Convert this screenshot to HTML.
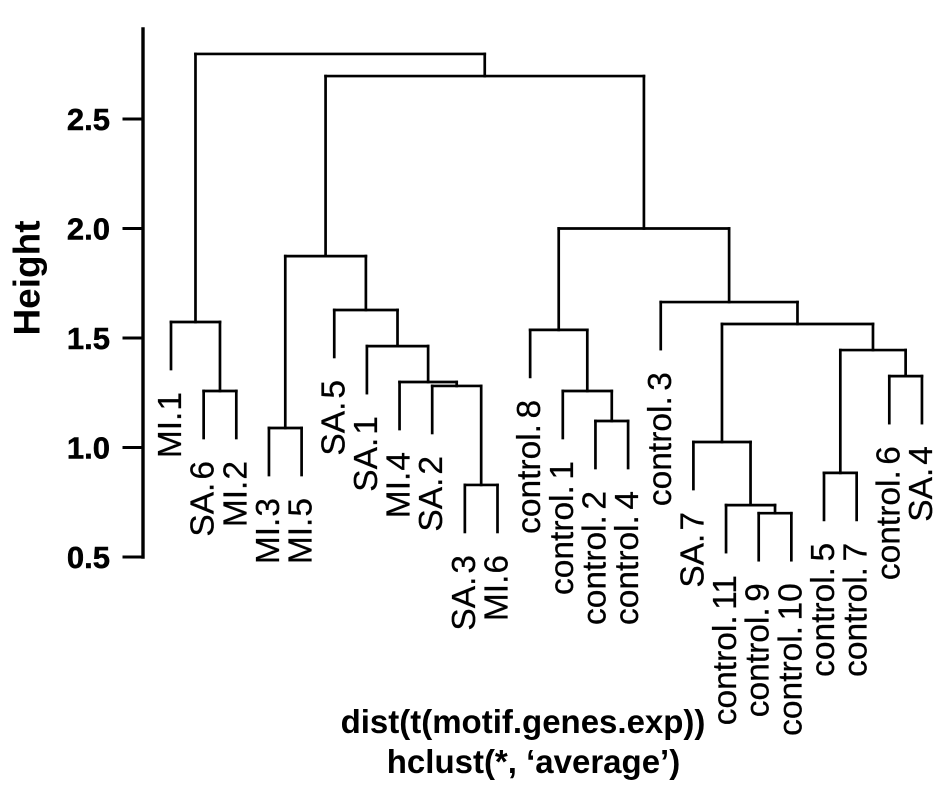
<!DOCTYPE html>
<html>
<head>
<meta charset="utf-8">
<style>
html,body{margin:0;padding:0;background:#fff;}
svg{display:block;}
text{font-family:"Liberation Sans",Arial,sans-serif;fill:#000;}
</style>
</head>
<body>
<svg id="chart" width="945" height="794" viewBox="0 0 945 794" xmlns="http://www.w3.org/2000/svg">
  <text transform="translate(39.5,278) rotate(-90)" text-anchor="middle" font-size="37" font-weight="bold">Height</text>
  <text x="523" y="733" text-anchor="middle" font-size="33" font-weight="bold">dist(t(motif.genes.exp))</text>
  <text x="533.5" y="773" text-anchor="middle" font-size="33" font-weight="bold">hclust(*, ‘average’)</text>
</svg>
<script>
const leafLabels = ["MI.1","SA.6","MI.2","MI.3","MI.5","SA.5","SA.1","MI.4","SA.2","SA.3","MI.6","control.8","control.1","control.2","control.4","control.3","SA.7","control.11","control.9","control.10","control.5","control.7","control.6","SA.4"];
// children: negative = leaf (1-based index in leafLabels), positive = earlier merge (1-based)
const mergeLeft  = [-2, -1, -4, -10, -9, -8, -7, -6, 3, -14, -13, -12, -19, -18, -17, -21, -23, 16, 15, -16, 12, 9, 2];
const mergeRight = [-3,  1, -5, -11,  4,  5,  6,  7, 8, -15,  10,  11, -20,  13,  14, -22, -24, 17, 18,  19, 20, 21, 22];
const mergeHeights = [1.258,1.573,1.089,0.829,1.281,1.299,1.463,1.628,1.874,1.121,1.258,1.537,0.70,0.737,1.025,0.884,1.326,1.445,1.564,1.664,2.0,2.696,2.797];
const yTicks = [0.5,1.0,1.5,2.0,2.5];
const yTickLabels = ["0.5","1.0","1.5","2.0","2.5"];
const hang = 0.2146;

const svg = document.getElementById('chart');
const NS = 'http://www.w3.org/2000/svg';
const yScale = h => 557 - (h - 0.5) * 219;
const xScale = i => 171 + i * 32.65;

function line(x1, y1, x2, y2, w) {
  const el = document.createElementNS(NS, 'line');
  el.setAttribute('x1', x1);
  el.setAttribute('y1', y1);
  el.setAttribute('x2', x2);
  el.setAttribute('y2', y2);
  el.setAttribute('stroke', '#000');
  el.setAttribute('stroke-width', w);
  el.setAttribute('stroke-linecap', 'square');
  svg.appendChild(el);
  return el;
}

// axis
const axisLine = line(143, 29, 143, yScale(yTicks[0]), 3.4);


yTicks.forEach((t, i) => {
  const tick = line(124, yScale(t), 143, yScale(t), 3);
  
  
  const lab = document.createElementNS(NS, 'text');
  lab.setAttribute('x', 110);
  lab.setAttribute('y', yScale(t) + 11);
  lab.setAttribute('text-anchor', 'end');
  lab.setAttribute('font-size', '31');
  lab.setAttribute('font-weight', 'bold');
  lab.setAttribute('stroke', '#000');
  lab.setAttribute('stroke-width', '0.5');
  lab.textContent = yTickLabels[i];
  
  
  svg.appendChild(lab);
});

// tree
const nodeX = [];
function childX(c) { return c < 0 ? xScale(-c - 1) : nodeX[c - 1]; }
function suffixGap(prefix) {
  if (prefix === 'control') return 5.5;
  if (prefix === 'SA') return 3;
  return 1;
}
function branch(c, x, parentY, h) {
  let bottom;
  if (c < 0) {
    bottom = yScale(h - hang);
    const lab = document.createElementNS(NS, 'text');
    lab.setAttribute('transform', 'translate(' + (x + 10) + ',' + (bottom + 23) + ') rotate(-90)');
    lab.setAttribute('text-anchor', 'end');
    lab.setAttribute('font-size', '33.5');
    lab.setAttribute('stroke', '#000');
    lab.setAttribute('stroke-width', '0.25');
    const parts = leafLabels[-c - 1].split('.');
    lab.appendChild(document.createTextNode(parts[0] + '.'));
    const suffix = document.createElementNS(NS, 'tspan');
    suffix.setAttribute('dx', suffixGap(parts[0]));
    suffix.textContent = parts[1];
    lab.appendChild(suffix);
    
    
    svg.appendChild(lab);
  } else {
    bottom = yScale(mergeHeights[c - 1]);
  }
  const v = line(x, parentY, x, bottom, 2.7);
  
  
}
mergeHeights.forEach((h, i) => {
  const l = mergeLeft[i], r = mergeRight[i];
  const xl = childX(l), xr = childX(r);
  nodeX[i] = (xl + xr) / 2;
  const y = yScale(h);
  const bar = line(xl, y, xr, y, 2.7);
  
  
  branch(l, xl, y, h);
  branch(r, xr, y, h);
});
</script>
</body>
</html>
